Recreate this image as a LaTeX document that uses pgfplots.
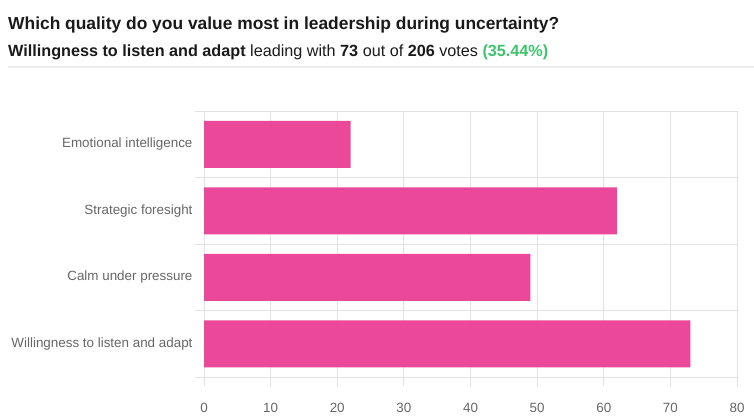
\documentclass[border=0pt]{standalone}
\usepackage{pgfplots}
\pgfplotsset{compat=1.18}
\usepackage{fontspec}
\setmainfont{Liberation Sans}
\definecolor{barpink}{HTML}{EC4899}
\definecolor{gridgray}{HTML}{E2E2E2}
\definecolor{sepgray}{HTML}{ECECEC}
\definecolor{txtgray}{HTML}{666666}
\definecolor{titleblack}{HTML}{1A1A1A}
\definecolor{votegreen}{HTML}{3CC46A}
\begin{document}
\begin{tikzpicture}[x=1pt,y=1pt]
\path[use as bounding box] (0,0) rectangle (754,-419);
\node[anchor=base west, font=\fontsize{17.4}{20}\selectfont\bfseries, text=titleblack, inner sep=0] at (8,-30) {Which quality do you value most in leadership during uncertainty?};
\node[anchor=base west, font=\fontsize{16.2}{19}\selectfont, text=titleblack, inner sep=0] at (8,-57) {\textbf{Willingness to listen and adapt} leading with \textbf{73} out of \textbf{206} votes \textcolor{votegreen}{\textbf{(35.44\%)}}};
\draw[sepgray, line width=1.2] (8,-67) -- (754,-67);
\begin{axis}[
  at={(204pt,-377pt)}, anchor=south west,
  scale only axis, width=533pt, height=266pt,
  xbar, bar width=47pt,
  xmin=0, xmax=80, ymin=-0.5, ymax=3.5,
  clip=false,
  tick align=outside,
  xtick={0,10,...,80}, minor xtick={0,10,...,80},
  ytick={0,1,2,3},
  yticklabels={Willingness to listen and adapt, Calm under pressure, Strategic foresight, Emotional intelligence},
  xtick pos=bottom, ytick pos=left,
  xminorgrids,
  minor grid style={gridgray, line width=0.9pt},
  major tick length=0pt, minor tick length=9pt,
  tick style={gridgray, line width=0.9pt},
  axis line style={gridgray, line width=0.9pt},
  ticklabel style={font=\fontsize{13.4}{15}\selectfont, text=txtgray},
  /pgf/number format/assume math mode=true,
  xticklabel shift=23pt,
  yticklabel shift=8pt,
]
\pgfplotsinvokeforeach{0.5,1.5,2.5}{
  \draw[gridgray, line width=0.9pt] ([xshift=-9pt]axis cs:0,#1) -- (axis cs:80,#1);
}
\pgfplotsinvokeforeach{-0.5,3.5}{
  \draw[gridgray, line width=0.9pt] ([xshift=-9pt]axis cs:0,#1) -- (axis cs:0,#1);
}
\addplot[fill=barpink, draw=none] coordinates {(73,0) (49,1) (62,2) (22,3)};
\end{axis}
\end{tikzpicture}
\end{document}
